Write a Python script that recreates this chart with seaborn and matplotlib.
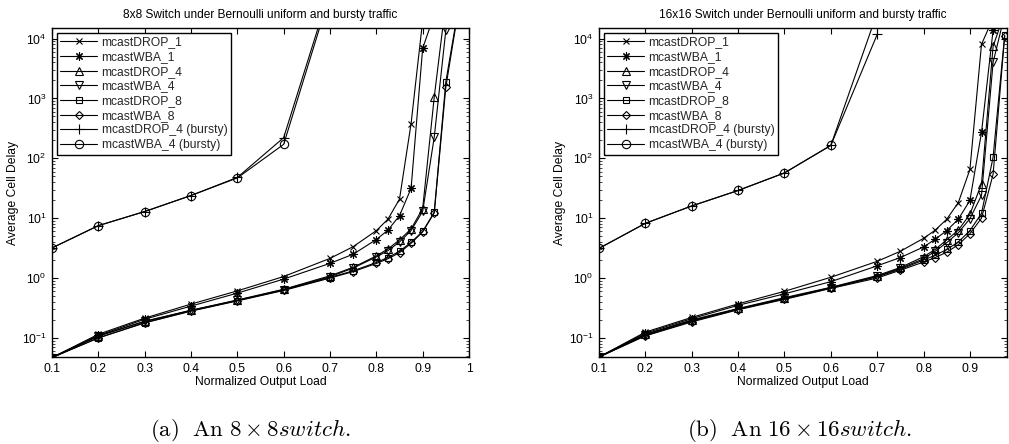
import numpy as np
import pandas as pd
import matplotlib
matplotlib.use("Agg")
import matplotlib.pyplot as plt
import seaborn as sns

# Normalized output load at which each point was simulated
loads = [0.1, 0.2, 0.3, 0.4, 0.5, 0.6, 0.7, 0.75, 0.8, 0.825, 0.85, 0.875,
         0.9, 0.925, 0.95, 0.975]

series_names = ["mcastDROP_1", "mcastWBA_1", "mcastDROP_4", "mcastWBA_4",
                "mcastDROP_8", "mcastWBA_8", "mcastDROP_4 (bursty)",
                "mcastWBA_4 (bursty)"]

# 8x8 switch: average cell delay per load (curves end at their first off-scale point)
delay_8_drop1 = [0.047, 0.115, 0.214, 0.367, 0.61, 1.06, 2.13, 3.34, 6.2, 9.6, 20.8, 380, 2.0e4]
delay_8_wba1 = [0.047, 0.11, 0.205, 0.34, 0.56, 0.96, 1.76, 2.5, 4.4, 6.3, 11.0, 31.5, 6860, 2.5e4]
delay_8_drop4 = [0.047, 0.108, 0.19, 0.29, 0.43, 0.65, 1.09, 1.51, 2.34, 3.06, 4.33, 6.6, 14.5, 1060, 4.0e4]
delay_8_wba4 = [0.047, 0.107, 0.188, 0.288, 0.425, 0.64, 1.05, 1.47, 2.25, 2.87, 4.0, 6.2, 13.0, 226, 13800, 1.0e5]
delay_8_drop8 = [0.047, 0.10, 0.18, 0.283, 0.42, 0.63, 1.02, 1.32, 1.82, 2.2, 2.8, 3.95, 6.0, 12.6, 1900, 2.6e4]
delay_8_wba8 = [0.047, 0.10, 0.178, 0.28, 0.415, 0.62, 1.0, 1.28, 1.75, 2.1, 2.65, 3.8, 5.9, 12.3, 1550, 2.4e4]
delay_8_drop4_bursty = [3.18, 7.5, 12.9, 23.9, 47.9, 221, 6.5e4]
delay_8_wba4_bursty = [3.18, 7.5, 12.9, 23.9, 47.0, 171, 5.5e4]

# 16x16 switch
delay_16_drop1 = [0.048, 0.125, 0.22, 0.37, 0.6, 1.03, 1.9, 2.8, 4.6, 6.3, 9.6, 18.2, 65, 8000, 2.2e4]
delay_16_wba1 = [0.048, 0.12, 0.21, 0.35, 0.545, 0.87, 1.6, 2.2, 3.3, 4.45, 6.2, 9.6, 19.8, 270, 13800, 5.0e4]
delay_16_drop4 = [0.048, 0.115, 0.2, 0.31, 0.47, 0.7, 1.1, 1.5, 2.27, 3.0, 4.35, 6.3, 11.6, 37.6, 7400, 2.7e4]
delay_16_wba4 = [0.048, 0.113, 0.195, 0.305, 0.46, 0.69, 1.07, 1.45, 2.1, 2.8, 3.9, 5.7, 9.8, 24, 4000, 2.5e4]
delay_16_drop8 = [0.048, 0.11, 0.19, 0.3, 0.45, 0.68, 1.05, 1.4, 2.0, 2.4, 3.0, 4.0, 6.2, 12, 104, 11400]
delay_16_wba8 = [0.048, 0.108, 0.185, 0.295, 0.44, 0.67, 1.0, 1.35, 1.85, 2.2, 2.7, 3.6, 5.5, 10, 54, 11000]
delay_16_drop4_bursty = [3.13, 8.2, 16, 29, 57, 164, 11700]
delay_16_wba4_bursty = [3.13, 8.2, 16, 29, 57, 164, 2.7e4]

x_ticks_8 = [0.1, 0.2, 0.3, 0.4, 0.5, 0.6, 0.7, 0.8, 0.9, 1.0]
x_ticklabels_8 = ["0.1", "0.2", "0.3", "0.4", "0.5", "0.6", "0.7", "0.8", "0.9", "1"]
x_ticks_16 = [0.1, 0.2, 0.3, 0.4, 0.5, 0.6, 0.7, 0.8, 0.9]
x_ticklabels_16 = ["0.1", "0.2", "0.3", "0.4", "0.5", "0.6", "0.7", "0.8", "0.9"]

titles = ["8x8 Switch under Bernoulli uniform and bursty traffic",
          "16x16 Switch under Bernoulli uniform and bursty traffic"]
captions = [r"$\mathrm{(a)\ \ An\ 8\times 8}switch.$",
            r"$\mathrm{(b)\ \ An\ 16\times 16}switch.$"]

markers = ["x", (8, 2, 0), "^", "v", "s", "D", "+", "o"]
marker_sizes = [5, 6, 6, 6, 5, 4.5, 7, 6]

sns.set_theme(style="ticks")
plt.rcParams["font.family"] = ["Liberation Sans", "DejaVu Sans"]
plt.rcParams["mathtext.fontset"] = "custom"
plt.rcParams["mathtext.rm"] = "Liberation Sans"
plt.rcParams["mathtext.it"] = "Liberation Sans:italic"
plt.rcParams["mathtext.bf"] = "Liberation Sans:bold"

W, H = 1009, 444
fig = plt.figure(figsize=(W / 100, H / 100), dpi=100)
fig.patch.set_facecolor("white")


def px_axes(x0, y0, x1, y1):
    return fig.add_axes([x0 / W, 1 - y1 / H, (x1 - x0) / W, (y1 - y0) / H])


ax8 = px_axes(52, 28, 469, 357)
ax16 = px_axes(599, 28, 1007, 357)

panels = [
    (ax8, [delay_8_drop1, delay_8_wba1, delay_8_drop4, delay_8_wba4,
           delay_8_drop8, delay_8_wba8, delay_8_drop4_bursty, delay_8_wba4_bursty],
     (0.1, 1.0), x_ticks_8, x_ticklabels_8),
    (ax16, [delay_16_drop1, delay_16_wba1, delay_16_drop4, delay_16_wba4,
            delay_16_drop8, delay_16_wba8, delay_16_drop4_bursty, delay_16_wba4_bursty],
     (0.1, 0.98), x_ticks_16, x_ticklabels_16),
]

FS = 8.7

for i, (ax, curves, xlim, xt, xtl) in enumerate(panels):
    for name, vals, mk, ms in zip(series_names, curves, markers, marker_sizes):
        df = pd.DataFrame({"load": loads[:len(vals)], "delay": vals})
        sns.lineplot(data=df, x="load", y="delay", ax=ax, color="black",
                     linewidth=0.8, marker=mk, markersize=ms,
                     markerfacecolor="none", markeredgecolor="black",
                     markeredgewidth=0.8, label=name)
    ax.set_yscale("log")
    ax.set_xlim(*xlim)
    ax.set_ylim(0.048, 1.5e4)
    ax.set_xticks(xt)
    ax.set_xticklabels(xtl)
    ax.set_yticks([1e-1, 1e0, 1e1, 1e2, 1e3, 1e4])
    ax.tick_params(axis="both", which="major", direction="in", length=4,
                   width=0.8, top=True, right=True, labelsize=FS, pad=4,
                   colors="black")
    ax.tick_params(axis="y", which="minor", direction="in", length=2,
                   width=0.6, right=True, left=True)
    for sp in ax.spines.values():
        sp.set_color("black")
        sp.set_linewidth(1.0)
    ax.set_xlabel("Normalized Output Load", fontsize=FS, labelpad=1, color="black")
    ax.set_ylabel("Average Cell Delay", fontsize=FS, labelpad=2, color="black")
    ax.set_title(titles[i], fontsize=8.6, pad=7, color="black")
    leg = ax.legend(loc="upper left", fontsize=FS, frameon=True, fancybox=False,
                    edgecolor="black", handlelength=3.0, handletextpad=0.4,
                    labelspacing=0.22, borderpad=0.3, borderaxespad=0.4,
                    framealpha=1)
    leg.get_frame().set_linewidth(1.0)
    ax.set_facecolor("white")

fig.text(250 / W, 1 - 430 / H, captions[0], ha="center", va="center",
         fontsize=16.5, math_fontfamily="cm", color="black")
fig.text(799 / W, 1 - 430 / H, captions[1], ha="center", va="center",
         fontsize=16.5, math_fontfamily="cm", color="black")

fig.savefig("out.png", dpi=100, facecolor="white")
